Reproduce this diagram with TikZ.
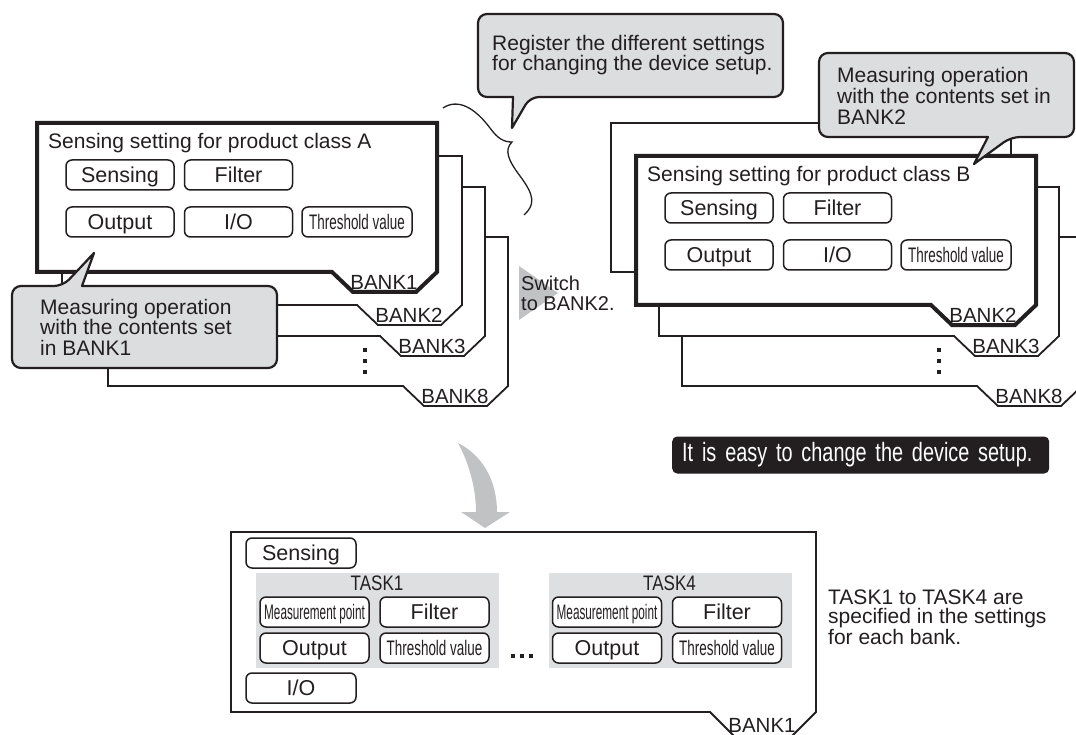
\documentclass[tikz,border=0pt]{standalone}
\usepackage{fontspec}
\setmainfont{Liberation Sans}
\newfontfamily\narrowfont[FakeStretch=0.64]{Liberation Sans}
\newfontfamily\narrowerfont[FakeStretch=0.56]{Liberation Sans}
\newfontfamily\semifont[FakeStretch=0.81]{Liberation Sans}
\newfontfamily\easyfont[FakeStretch=0.75]{Liberation Sans}
\usetikzlibrary{calc}
\definecolor{ink}{RGB}{35,31,32}
\definecolor{callgray}{RGB}{220,221,223}
\definecolor{taskgray}{RGB}{222,223,225}
\definecolor{arrowgray}{RGB}{192,194,196}
\newcommand\fsz[2]{\fontsize{#1}{#2}\selectfont}
% bank outline: x y name label style
\newcommand\bank[5]{%
  \draw[#5] (#1,#2) -- ++(400,0) -- ++(0,149) -- ++(-21,20) -- ++(-63,0) -- ++(-21,-20) -- ++(-295,0) -- cycle;
  \path (#1,#2) ++(347,159) node[banklbl] (#3) {#4};
}
\newcommand\bankbody[1]{%
  \node[ctext, font=\fsz{21}{21}, anchor=west] (title) at (11,20) {Sensing setting for product class #1};
  \node[btn] (sensing) at (83,52) {Sensing};
  \node[btn] (filter) at (201.5,52) {Filter};
  \node[btn] (output) at (83,99) {Output};
  \node[btn] (io) at (201.5,99) {I/O};
  \node[nbtn, minimum width=110pt] (thr) at (320,99) {Threshold value};
}
\newcommand\taskpanel[1]{%
  \node[fill=taskgray, minimum width=243pt, minimum height=95pt, inner sep=0pt] (bg) at (121.5,47.5) {};
  \node[font=\semifont\fsz{21}{21}, text=ink, inner sep=0pt] (lbl) at (121,10) {TASK#1};
  \node[nbtn, font=\narrowerfont\fsz{21}{21}, minimum width=109pt] (mp) at (58.5,39) {Measurement point};
  \node[btn, minimum width=109pt] (filter) at (178.5,39) {Filter};
  \node[btn, minimum width=109pt] (output) at (58.5,75) {Output};
  \node[nbtn, minimum width=109pt] (thr) at (178.5,75) {Threshold value};
}
\begin{document}
\begin{tikzpicture}[x=1pt,y=-1pt,
  btn/.style={draw=ink, fill=white, line width=1.5pt, rounded corners=6pt, minimum width=108pt, minimum height=30pt, inner sep=0pt, font=\fsz{21.5}{21.5}, text=ink, text height=15.4pt, text depth=0pt},
  nbtn/.style={btn, font=\narrowfont\fsz{21}{21}, text height=15pt},
  banklbl/.style={font=\fsz{20.5}{20.5}, text=ink, inner sep=0pt},
  thinbank/.style={draw=ink, fill=white, line width=1.8pt, line join=miter},
  thickbank/.style={draw=ink, fill=white, line width=4pt, line join=miter},
  callout/.style={draw=ink, fill=callgray, line width=2.2pt, line join=round},
  ctext/.style={font=\fsz{21}{20.5}, text=ink, align=left, inner sep=0pt},
  dot/.style={fill=ink, minimum size=4pt, inner sep=0pt},
]
\useasboundingbox (0,0) rectangle (1076,735);
\clip (0,0) rectangle (1076,735);
\fill[white] (0,0) rectangle (1076,735);

% ---------- top callout and brace ----------
\draw[ink, line width=1.3pt] (443,108) .. controls (458,98) and (475,108) .. (490,128)
   .. controls (498,139) and (504,142) .. (512,142)
   .. controls (504,150) and (508,160) .. (520,176)
   .. controls (535,196) and (535,205) .. (524,215);
\draw[callout] (478,55) [rounded corners=9pt]-- (478,14) -- (783,14) -- (783,97) -- (530,97) [sharp corners]-- (512,128) -- (513,97) [rounded corners=9pt]-- (478,97) -- cycle;
\node[ctext, anchor=west] (reg) at (492,55) {Register the different settings\\for changing the device setup.};

% ---------- left stack ----------
\bank{108}{237}{L-b8}{BANK8}{thinbank}
\bank{85}{187}{L-b3}{BANK3}{thinbank}
\bank{62}{156}{L-b2}{BANK2}{thinbank}
\bank{37}{123}{L-b1}{BANK1}{thickbank}
\begin{scope}[shift={(37,123)}, name prefix=L-]
  \bankbody{A}
\end{scope}
\node[dot] (L-d1) at (365,350) {};
\node[dot] (L-d2) at (365,361) {};
\node[dot] (L-d3) at (365,372) {};
\draw[callout] (12,327) [rounded corners=9pt]-- (12,286) -- (63,286) [sharp corners]-- (94,253) -- (82,286) [rounded corners=9pt]-- (277,286) -- (277,368) -- (12,368) -- cycle;
\node[ctext, anchor=west] (meas1) at (40,327) {Measuring operation\\with the contents set\\in BANK1};

% ---------- switch ----------
\fill[arrowgray] (519,266) -- (558,293) -- (519,320) -- cycle;
\node[ctext, font=\fsz{20}{20}, anchor=west] (switch) at (521,293) {Switch\\to BANK2.};

% ---------- right stack ----------
\bank{682}{237}{R-b8}{BANK8}{thinbank}
\bank{659}{187}{R-b3}{BANK3}{thinbank}
\bank{611}{123}{R-b1}{BANK1}{thinbank}
\bank{636}{156}{R-b2}{BANK2}{thickbank}
\begin{scope}[shift={(636,156)}, name prefix=R-]
  \bankbody{B}
\end{scope}
\node[dot] (R-d1) at (939,350) {};
\node[dot] (R-d2) at (939,361) {};
\node[dot] (R-d3) at (939,372) {};
\draw[callout] (819,95) [rounded corners=9pt]-- (819,53) -- (1074,53) -- (1074,137) -- (1011,137) [sharp corners]-- (974,164) -- (988,137) [rounded corners=9pt]-- (819,137) -- cycle;
\node[ctext, font=\fsz{21}{21}, anchor=west] (meas2) at (837,96) {Measuring operation\\with the contents set in\\BANK2};

% ---------- easy label ----------
\node[fill=ink, rounded corners=5pt, text=white, font=\easyfont\fsz{26.5}{26.5}, anchor=west, inner xsep=10pt, inner ysep=0pt, text width=357pt, align=left, minimum height=37pt] (easy) at (672,455) {It is easy to change the device setup.};

% ---------- down arrow ----------
\fill[arrowgray] (458,443) .. controls (470,465) and (476,490) .. (476,512) -- (461,512) -- (485,528) -- (510,512) -- (497,512) .. controls (497,480) and (482,455) .. (458,443) -- cycle;

% ---------- bottom bank ----------
\draw[thinbank] (231,532) -- (816,532) -- (816,712) -- (790,738) -- (736,738) -- (710,712) -- (231,712) -- cycle;
\node[banklbl] (B-lbl) at (762,725) {BANK1};
\node[btn, minimum width=110pt] (B-sensing) at (301,553) {Sensing};
\node[btn, minimum width=110pt] (B-io) at (301,688) {I/O};
\begin{scope}[shift={(256,573)}, name prefix=T1-]
  \taskpanel{1}
\end{scope}
\begin{scope}[shift={(548.5,573)}, name prefix=T4-]
  \taskpanel{4}
\end{scope}
\node[dot] (B-e1) at (513,656) {};
\node[dot] (B-e2) at (522,656) {};
\node[dot] (B-e3) at (531,656) {};
\node[ctext, font=\fsz{21}{19.5}, anchor=west] (note) at (828,617) {TASK1 to TASK4 are\\specified in the settings\\for each bank.};
\end{tikzpicture}
\end{document}
